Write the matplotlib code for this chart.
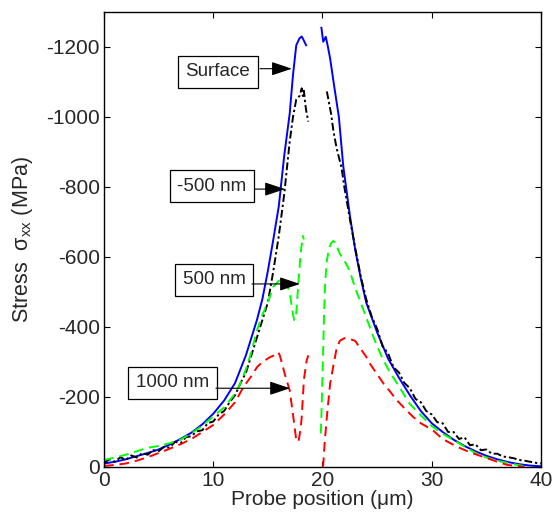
import matplotlib
matplotlib.use("Agg")
import matplotlib.pyplot as plt

plt.rcParams['font.family'] = ['Liberation Sans', 'DejaVu Sans']
plt.rcParams['mathtext.fontset'] = 'custom'
plt.rcParams['mathtext.rm'] = 'Liberation Sans'
plt.rcParams['mathtext.it'] = 'Liberation Sans'
plt.rcParams['axes.unicode_minus'] = False

# ---- data ----
surf_left_x = [0, 1, 2, 3, 4, 5, 6, 7, 8, 9, 10, 11, 12, 13, 14, 14.5, 15, 15.5, 16, 16.5,
               17, 17.3, 17.6, 17.9, 18.1, 18.3, 18.5]
surf_left_y = [-10, -15, -22, -31, -40, -50, -64, -80, -98, -122, -152, -190, -240, -320, -420,
               -480, -560, -650, -745, -890, -1010, -1120, -1205, -1225, -1230, -1218, -1205]
surf_right_x = [19.9, 20.07, 20.3, 20.5, 20.7, 21.1, 21.5, 21.9, 22.5, 23, 23.5, 24, 25, 26, 27,
                28, 29, 30, 31, 32, 33, 34, 35, 36, 37, 38, 39, 40]
surf_right_y = [-1255, -1215, -1229, -1200, -1167, -1082, -1000, -860, -720, -620, -540, -470,
                -385, -310, -255, -205, -160, -125, -100, -78, -60, -45, -32, -22, -14, -8, -4, -2]

m500_left_x = [0, 0.5, 1, 1.5, 2, 2.5, 3, 3.5, 4, 4.5, 5, 5.5, 6, 6.5, 7, 7.5, 8, 8.5, 9, 9.5,
               10, 10.5, 11, 11.5, 12, 12.5, 13, 13.5, 14, 14.5, 15, 15.5, 16, 16.5, 17, 17.3,
               17.6, 17.9, 18.1, 18.2, 18.3, 18.4, 18.5, 18.7]
m500_left_y = [-12, -22, -15, -28, -20, -33, -27, -40, -35, -48, -45, -58, -55, -72, -68, -85,
               -88, -102, -105, -125, -130, -150, -160, -185, -205, -240, -270, -320, -370, -420,
               -470, -560, -660, -780, -930, -1000, -1050, -1060, -1082, -1060, -1075, -1044,
               -1020, -987]
m500_right_x = [20.4, 20.6, 20.8, 21.0, 21.3, 21.75, 22, 22.5, 23, 23.5, 24, 24.5, 25, 25.5, 26,
                26.5, 27, 27.5, 28, 28.5, 29, 29.5, 30, 30.5, 31, 31.5, 32, 32.5, 33, 33.5, 34,
                34.5, 35, 35.5, 36, 36.5, 37, 37.5, 38, 38.5, 39, 39.5, 40]
m500_right_y = [-1073, -1040, -1007, -960, -910, -854, -800, -710, -625, -545, -480, -430, -395,
                -345, -325, -285, -270, -240, -225, -195, -185, -160, -150, -128, -125, -100,
                -100, -80, -85, -62, -65, -48, -50, -38, -38, -30, -28, -25, -20, -18, -15, -12,
                -10]

p500_left_x = [0, 1, 2, 3, 4, 5, 6, 7, 8, 9, 10, 11, 12, 12.5, 13, 13.5, 14, 14.5, 15, 15.5,
               16, 16.3, 16.6, 17.0, 17.2, 17.4, 17.6, 17.8, 18.0, 18.2, 18.3]
p500_left_y = [-20, -27, -35, -45, -55, -60, -68, -78, -96, -118, -145, -170, -210, -240, -280,
               -330, -390, -435, -470, -515, -532, -537, -530, -500, -455, -420, -440, -530,
               -610, -660, -650]
p500_right_x = [19.85, 19.95, 20.05, 20.15, 20.25, 20.4, 20.6, 20.8, 21.0, 21.2, 21.6, 22, 22.5,
                23, 23.5, 24, 24.5, 25, 25.5, 26, 27, 28, 29, 30, 31, 32, 33, 34, 35, 36, 37,
                38, 38.5]
p500_right_y = [-96, -200, -320, -440, -530, -589, -625, -640, -646, -640, -608, -590, -560,
                -510, -470, -428, -385, -345, -310, -280, -230, -180, -148, -117, -95, -77, -58,
                -40, -27, -18, -11, -5, -2]

n1000_left_x = [0, 1, 2, 3, 4, 5, 6, 7, 8, 9, 10, 11, 12, 12.75, 13.5, 14, 14.5, 15, 15.2,
                15.5, 15.95, 16.1, 16.3, 16.6, 17.0, 17.3, 17.6, 17.8, 18.0, 18.1, 18.3, 18.55,
                18.7]
n1000_left_y = [-3, -6, -10, -18, -28, -40, -52, -65, -80, -100, -120, -150, -185, -228, -260,
                -285, -300, -310, -314, -318, -328, -318, -295, -260, -219, -150, -77, -72,
                -110, -143, -250, -304, -319]
n1000_right_x = [20.0, 20.07, 20.2, 20.4, 20.7, 21.0, 21.3, 21.6, 22.0, 22.5, 23.0, 23.4, 24,
                 24.35, 25, 25.6, 26.2, 26.8, 27.5, 28.3, 29, 30.1, 31, 32.3, 33.5, 34.7, 36,
                 36.9, 37.5, 38.5]
n1000_right_y = [0, -5, -70, -143, -238, -290, -340, -361, -368, -366, -360, -342, -315, -295,
                 -265, -238, -215, -191, -168, -143, -125, -105, -80, -58, -42, -29, -15, -6,
                 -4, 0]

labels = ['Surface', '-500 nm', '500 nm', '1000 nm']
x_ticks = [0, 10, 20, 30, 40]
y_ticks = [0, -200, -400, -600, -800, -1000, -1200]

# ---- figure ----
fig = plt.figure(figsize=(5.54, 5.19), dpi=100)
ax = fig.add_axes([0.1877, 0.1002, 0.7888, 0.8767])

blue = '#0000ff'
ax.plot(surf_left_x, surf_left_y, color=blue, lw=1.4)
ax.plot(surf_right_x, surf_right_y, color=blue, lw=1.4)

dashdot = (0, (4, 1.5, 1.2, 1.5))
ax.plot(m500_left_x, m500_left_y, color='black', lw=1.4, linestyle=dashdot)
ax.plot(m500_right_x, m500_right_y, color='black', lw=1.4, linestyle=dashdot)

dashed = (0, (5, 3))
ax.plot(p500_left_x, p500_left_y, color='#00ff00', lw=1.4, linestyle=dashed)
ax.plot(p500_right_x, p500_right_y, color='#00ff00', lw=1.4, linestyle=dashed)

ax.plot(n1000_left_x, n1000_left_y, color='#ff0000', lw=1.4, linestyle=dashed)
ax.plot(n1000_right_x, n1000_right_y, color='#ff0000', lw=1.4, linestyle=dashed)

ax.set_xlim(0, 40)
ax.set_ylim(0, -1300)
ax.set_xticks(x_ticks)
ax.set_yticks(y_ticks)
ax.tick_params(direction='in', length=4.5, width=0.8, top=True, right=True,
               labelsize=15, labelcolor='#262626', pad=3)
for s in ax.spines.values():
    s.set_linewidth(1.0)

ax.set_xlabel('Probe position (\u03bcm)', fontsize=15, color='#262626', labelpad=0)
ax.set_ylabel('Stress  \u03c3$_{\\mathrm{xx}}$ (MPa)', fontsize=15.5, color='#262626',
              labelpad=8)

# annotations: (text center, arrow tail, arrow head) in data coordinates
text_pos = [(10.43, -1129), (9.89, -802), (10.07, -535), (6.27, -240)]
tails = [(14.28, -1138), (13.82, -794), (13.55, -523), (10.25, -225)]
heads = [(17.2, -1138), (16.57, -794), (17.94, -523), (17.03, -225)]
for lab, tp, tl, hd in zip(labels, text_pos, tails, heads):
    ax.text(tp[0], tp[1], lab, fontsize=13.5, color='#262626', ha='center', va='center',
            bbox=dict(boxstyle='square,pad=0.4', fc='white', ec='black', lw=0.9), zorder=5)
    ax.annotate('', xy=hd, xytext=tl,
                arrowprops=dict(arrowstyle='-|>,head_length=0.9,head_width=0.3',
                                color='black', lw=0.8, shrinkA=0, shrinkB=0,
                                mutation_scale=14), zorder=5)

fig.savefig('out.png', dpi=100)
